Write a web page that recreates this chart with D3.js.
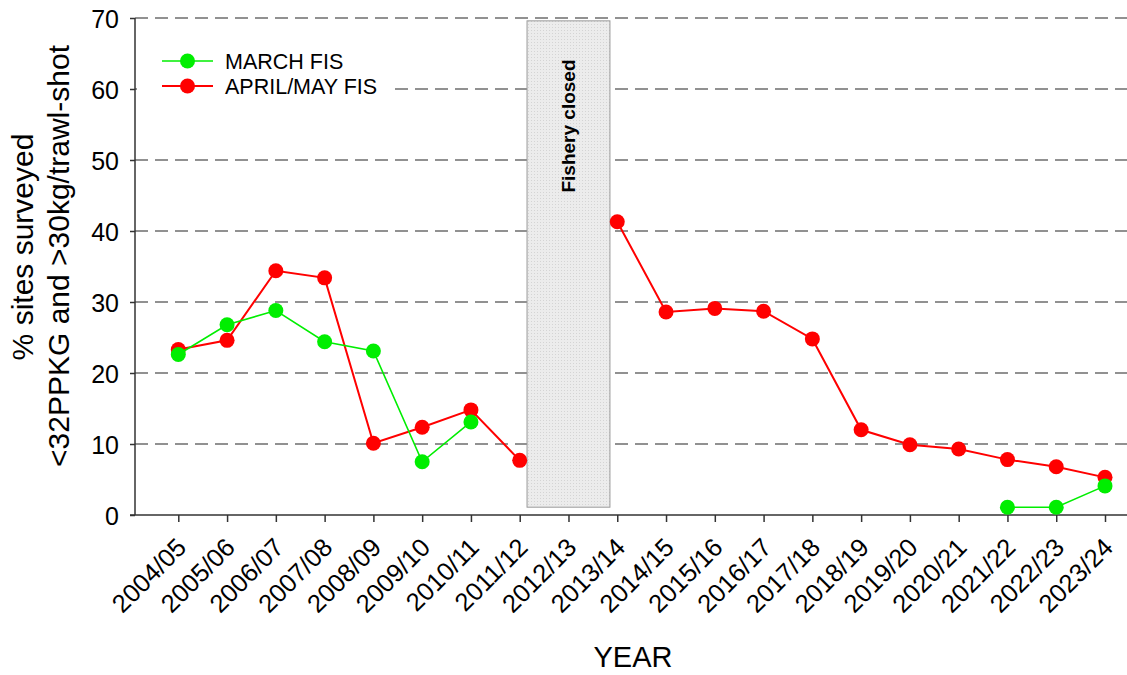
<!DOCTYPE html>
<html><head><meta charset="utf-8">
<script src="https://cdn.jsdelivr.net/npm/d3@7"></script>
<style>body{margin:0;background:#fff;} svg{display:block;font-family:Arial,"Liberation Sans",sans-serif;}</style>
</head><body>
<svg id="c" width="1127" height="675"></svg>
<script>
const categories = ["2004/05","2005/06","2006/07","2007/08","2008/09","2009/10","2010/11","2011/12","2012/13","2013/14","2014/15","2015/16","2016/17","2017/18","2018/19","2019/20","2020/21","2021/22","2022/23","2023/24"];
const marchFIS = [22.6,26.8,28.8,24.4,23.1,7.5,13.1,null,null,null,null,null,null,null,null,null,null,1.1,1.1,4.1];
const aprilMayFIS = [23.3,24.6,34.4,33.4,10.1,12.35,14.8,7.7,null,41.3,28.6,29.1,28.7,24.8,12.0,9.9,9.3,7.8,6.8,5.3];
const yTicks = [0,10,20,30,40,50,60,70];
const closedSpan = {from:"2011/12", to:"2013/14", label:"Fishery closed", yLow:1.1, yHigh:69.6};

const svg = d3.select("#c");
const x = d3.scalePoint().domain(categories).range([178.3, 1105]);
const y = d3.scaleLinear().domain([0,70]).range([515, 18]);
const step = x.step();
const left = 135, right = 1127;

const defs = svg.append("defs");
const pat = defs.append("pattern").attr("id","dots").attr("width",3).attr("height",3).attr("patternUnits","userSpaceOnUse");
pat.append("rect").attr("width",3).attr("height",3).attr("fill","#ececec");
pat.append("rect").attr("width",1).attr("height",1).attr("fill","#d4d4d4");

svg.append("g").selectAll("line").data(yTicks.filter(d=>d>0)).join("line")
  .attr("x1", left).attr("x2", right).attr("y1", d=>y(d)).attr("y2", d=>y(d))
  .attr("stroke","#6e6e6e").attr("stroke-width",1.6).attr("stroke-dasharray","13,7");

const bx0 = x(closedSpan.from) + step*0.15, bx1 = x(closedSpan.to) - step*0.15;
svg.append("rect").attr("x",bx0).attr("y",y(closedSpan.yHigh)).attr("width",bx1-bx0)
  .attr("height",y(closedSpan.yLow)-y(closedSpan.yHigh))
  .attr("fill","url(#dots)").attr("stroke","#9a9a9a").attr("stroke-width",1);
svg.append("text").attr("transform",`translate(${(bx0+bx1)/2+7},126) rotate(-90)`)
  .attr("text-anchor","middle").attr("font-size",19).attr("font-weight","bold").text(closedSpan.label);

const yAxis = d3.axisLeft(y).tickValues(yTicks).tickSize(5).tickPadding(11);
const gy = svg.append("g").attr("transform",`translate(${left},0)`).call(yAxis);
gy.select(".domain").remove();
gy.selectAll(".tick line").attr("stroke","#333").attr("stroke-width",1.5);
gy.selectAll(".tick text").attr("font-size",25).attr("fill","#000").attr("font-family","Arial, 'Liberation Sans', sans-serif").attr("dy","0.36em");
svg.append("line").attr("x1",left).attr("x2",left).attr("y1",y(70)).attr("y2",y(0)).attr("stroke","#333").attr("stroke-width",1.5);

const xAxis = d3.axisBottom(x).tickSize(7).tickSizeOuter(0);
const gx = svg.append("g").attr("transform",`translate(0,${y(0)})`).call(xAxis);
gx.select(".domain").remove();
gx.selectAll(".tick line").attr("stroke","#333").attr("stroke-width",1.5);
gx.selectAll(".tick text").attr("font-size",25.5).attr("fill","#000")
  .attr("font-family","Arial, 'Liberation Sans', sans-serif")
  .attr("text-anchor","end").attr("dy",null).attr("y",null)
  .attr("transform","translate(9,34) rotate(-45)");
svg.append("line").attr("x1",left-5).attr("x2",right).attr("y1",y(0)).attr("y2",y(0)).attr("stroke","#333").attr("stroke-width",1.5);

svg.append("text").attr("x",633).attr("y",667).attr("text-anchor","middle").attr("font-size",29).text("YEAR");
svg.append("text").attr("transform","translate(33,247) rotate(-90)").attr("text-anchor","middle").attr("font-size",30).text("% sites surveyed");
svg.append("text").attr("transform","translate(69,256) rotate(-90)").attr("text-anchor","middle").attr("font-size",30).text("<32PPKG and >30kg/trawl-shot");

const series = [
  {name:"MARCH FIS", values:marchFIS, color:"#00ee00", width:1.6},
  {name:"APRIL/MAY FIS", values:aprilMayFIS, color:"#ff0000", width:2}
];
const line = d3.line().defined(d=>d.v!=null).x(d=>x(d.c)).y(d=>y(d.v));
[series[1], series[0]].forEach(s=>{
  const pts = categories.map((c,i)=>({c, v:s.values[i]}));
  svg.append("path").datum(pts).attr("d",line).attr("fill","none").attr("stroke",s.color).attr("stroke-width",s.width);
  svg.append("g").selectAll("circle").data(pts.filter(d=>d.v!=null)).join("circle")
    .attr("cx",d=>x(d.c)).attr("cy",d=>y(d.v)).attr("r",7.5).attr("fill",s.color);
});

svg.append("rect").attr("x",137).attr("y",42).attr("width",258).attr("height",64).attr("fill","#fff");
series.forEach((s,i)=>{
  const ly = 61 + i*25;
  svg.append("line").attr("x1",162).attr("x2",213).attr("y1",ly).attr("y2",ly).attr("stroke",s.color).attr("stroke-width",s.width);
  svg.append("circle").attr("cx",187.5).attr("cy",ly).attr("r",7.5).attr("fill",s.color);
  svg.append("text").attr("x",225).attr("y",ly+7.5).attr("font-size",21.5).text(s.name);
});
</script>
</body></html>
